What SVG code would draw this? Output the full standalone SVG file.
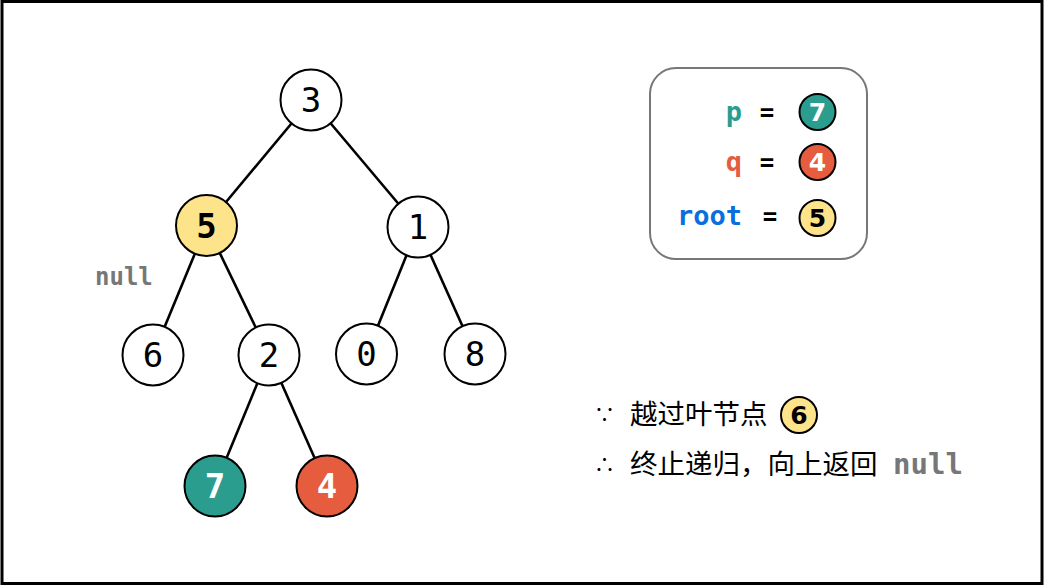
<svg xmlns="http://www.w3.org/2000/svg" width="1044" height="586" viewBox="0 0 1044 586">
<style>
.edge{stroke:#000;stroke-width:2.6;fill:none}
.node{stroke:#000;stroke-width:2;fill:#fff}
.num{font-family:"DejaVu Sans Mono","Liberation Mono",monospace;font-size:34px;text-anchor:middle;fill:#000}
.bold{font-weight:bold}
.yellow{fill:#fde38a}
.teal{fill:#2a9d8f}
.red{fill:#e65c3e}
.code{font-family:"DejaVu Sans Mono","Liberation Mono",monospace;font-weight:bold;font-size:27px}
.small{stroke:#000;stroke-width:2}
.snum{font-family:"DejaVu Sans","Liberation Sans",sans-serif;font-weight:bold;font-size:25px;text-anchor:middle}
.cn{font-family:"Noto Sans CJK SC","Noto Sans",sans-serif;font-size:27.5px;fill:#000}
.sym{font-family:"Noto Sans CJK SC","DejaVu Sans",sans-serif;font-size:21px;fill:#000}
</style>
<rect x="2" y="1.5" width="1040" height="582" fill="#fff" stroke="#000" stroke-width="3"/>
<g id="connectors">
<line class="edge" x1="311" y1="100" x2="206.5" y2="225.5"/>
<line class="edge" x1="311" y1="100" x2="418" y2="227"/>
<line class="edge" x1="206.5" y1="225.5" x2="153" y2="355"/>
<line class="edge" x1="206.5" y1="225.5" x2="269" y2="355"/>
<line class="edge" x1="418" y1="227" x2="366.5" y2="354"/>
<line class="edge" x1="418" y1="227" x2="475" y2="354"/>
<line class="edge" x1="269" y1="355" x2="215" y2="486"/>
<line class="edge" x1="269" y1="355" x2="327" y2="486"/>
</g>
<g id="n3"><circle class="node" cx="311" cy="100" r="30.5"/><text class="num" x="311" y="112">3</text></g>
<g id="n5"><circle class="node yellow" cx="206.5" cy="225.5" r="30.5"/><text class="num bold" x="206.5" y="238">5</text></g>
<g id="n1"><circle class="node" cx="418" cy="227" r="30.5"/><text class="num" x="418" y="239">1</text></g>
<g id="n6"><circle class="node" cx="153" cy="355" r="30.5"/><text class="num" x="153" y="367">6</text></g>
<g id="n2"><circle class="node" cx="269" cy="355" r="30.5"/><text class="num" x="269" y="367">2</text></g>
<g id="n0"><circle class="node" cx="366.5" cy="354" r="30.5"/><text class="num" x="366.5" y="366">0</text></g>
<g id="n8"><circle class="node" cx="475" cy="354" r="30.5"/><text class="num" x="475" y="366">8</text></g>
<g id="n7"><circle class="node teal" cx="215" cy="486" r="30.5"/><text class="num bold" x="215" y="498" style="fill:#fff">7</text></g>
<g id="n4"><circle class="node red" cx="327" cy="486" r="30.5"/><text class="num bold" x="327" y="498" style="fill:#fff">4</text></g>
<g id="null-label"><text class="code" x="95" y="285" style="font-size:24px" fill="#777">null</text></g>
<g id="legend">
<rect x="650" y="68" width="217" height="191" rx="26" fill="#fff" stroke="#777" stroke-width="2"/>
<text class="code" x="742" y="121" text-anchor="end" fill="#2a9d8f">p</text>
<text class="code" x="767" y="121" text-anchor="middle" fill="#000" style="font-size:24px">=</text>
<circle class="small teal" cx="817.5" cy="112" r="18"/><text class="snum" x="817.5" y="121" fill="#fff">7</text>
<text class="code" x="742" y="171" text-anchor="end" fill="#e65c3e">q</text>
<text class="code" x="767" y="171" text-anchor="middle" fill="#000" style="font-size:24px">=</text>
<circle class="small red" cx="817.5" cy="162" r="18"/><text class="snum" x="817.5" y="171" fill="#fff">4</text>
<text class="code" x="742" y="225" text-anchor="end" fill="#0a6fde">root</text>
<text class="code" x="770" y="225" text-anchor="middle" fill="#000" style="font-size:24px">=</text>
<circle class="small yellow" cx="817.5" cy="218" r="18"/><text class="snum" x="817.5" y="227" fill="#000">5</text>
</g>
<g id="note">
<text class="sym" x="594" y="422">∵</text>
<text class="cn" x="630" y="424">越过叶节点</text>
<circle class="small yellow" cx="799" cy="415" r="18"/><text class="snum" x="799" y="424" fill="#000">6</text>
<text class="sym" x="594" y="472">∴</text>
<text class="cn" x="630" y="474">终止递归，向上返回</text>
<text class="code" x="893" y="474" fill="#777" style="font-size:29px">null</text>
</g>
</svg>
